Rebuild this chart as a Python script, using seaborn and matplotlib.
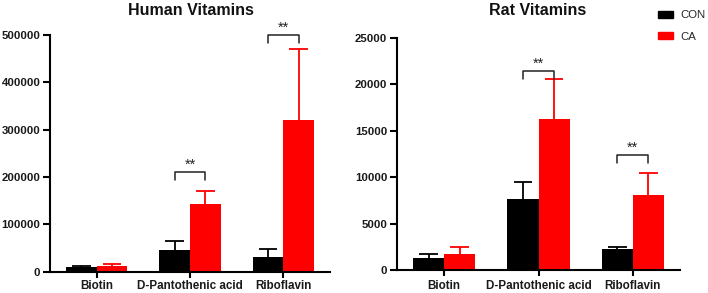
import numpy as np
import pandas as pd
import matplotlib
matplotlib.use("Agg")
import matplotlib.pyplot as plt
import seaborn as sns
from matplotlib.patches import Patch

sns.set_theme(style="ticks")
plt.rcParams['font.family'] = ['Liberation Sans', 'DejaVu Sans']

categories = ["Biotin", "D-Pantothenic acid", "Riboflavin"]
groups = ["CON", "CA"]
colors = ["#000000", "#ff0000"]

human_con = [9100, 45800, 31000]
human_con_err = [3500, 19700, 16000]
human_ca = [11900, 143000, 320000]
human_ca_err = [3500, 27000, 150000]
human_sig = ["", "**", "**"]
human_bracket = [0, 210000, 500000]

rat_con = [1260, 7690, 2240]
rat_con_err = [440, 1800, 250]
rat_ca = [1730, 16290, 8050]
rat_ca_err = [760, 4250, 2350]
rat_sig = ["", "**", "**"]
rat_bracket = [0, 21450, 12400]

human_ticks = [0, 100000, 200000, 300000, 400000, 500000]
rat_ticks = [0, 5000, 10000, 15000, 20000, 25000]

fig = plt.figure(figsize=(7.08, 2.93), dpi=100)
ax1 = fig.add_axes([50/708, 1-271.7/293, 280/708, (271.7-35)/293])
ax2 = fig.add_axes([397/708, 1-270/293, 283/708, (270-38)/293])


def draw(ax, con, con_err, ca, ca_err, sig, bracket, ticks, title, title_x, xpad):
    df = pd.DataFrame({
        "cat": categories * 2,
        "grp": ["CON"] * 3 + ["CA"] * 3,
        "val": list(con) + list(ca),
        "err": list(con_err) + list(ca_err),
    })
    sns.barplot(data=df, x="cat", y="val", hue="grp", hue_order=groups,
                palette=colors, width=0.66, errorbar=None, ax=ax,
                saturation=1, legend=False, linewidth=0)
    bars = [p for p in ax.patches if p.get_height() > 0]
    xs = [b.get_x() + b.get_width() / 2 for b in bars]
    for i, (x, v, e) in enumerate(zip(xs, df["val"], df["err"])):
        c = colors[0] if i < 3 else colors[1]
        ax.vlines(x, v, v + e, color=c, lw=1.3, zorder=1)
        ax.hlines(v + e, x - 0.1, x + 0.1, color=c, lw=1.3, zorder=1)
    ymax = ticks[-1]
    for j in range(3):
        if sig[j]:
            x0, x1 = xs[j], xs[j + 3]
            yb = bracket[j]
            leg = ymax * 0.033
            ax.plot([x0, x0, x1, x1], [yb - leg, yb, yb, yb - leg],
                    color="#222222", lw=1.1, clip_on=False)
            ax.text((x0 + x1) / 2, yb + ymax * 0.002, sig[j], ha="center",
                    va="bottom", fontsize=10.5, color="#222222", clip_on=False)
    ax.set_xlim(-0.5, 2.5)
    ax.set_ylim(0, ymax)
    ax.set_yticks(ticks)
    ax.set_yticklabels([str(t) for t in ticks], fontsize=8.2, fontweight="bold")
    ax.set_xticklabels(categories, fontsize=8.4, fontweight="bold")
    ax.set_xlabel("")
    ax.set_ylabel("")
    fig.text(title_x, 1 - 10.5/293, title, ha="center", va="center",
             fontsize=11.5, fontweight="bold", color="#111111")
    sns.despine(ax=ax)
    for s in ["left", "bottom"]:
        ax.spines[s].set_linewidth(1.5)
        ax.spines[s].set_color("black")
    ax.tick_params(axis="y", width=1.5, length=5, color="black",
                   labelcolor="#1a1a1a", pad=2)
    ax.tick_params(axis="x", width=1.5, length=4, color="black",
                   labelcolor="#1a1a1a", pad=xpad)


draw(ax1, human_con, human_con_err, human_ca, human_ca_err, human_sig,
     human_bracket, human_ticks, "Human Vitamins", 191/708, 2.2)
draw(ax2, rat_con, rat_con_err, rat_ca, rat_ca_err, rat_sig,
     rat_bracket, rat_ticks, "Rat Vitamins", 538/708, 3.5)

handles = [Patch(facecolor=c, edgecolor=c) for c in colors]
fig.legend(handles, groups, loc="upper left", bbox_to_anchor=(648/708, 1.0),
           frameon=False, fontsize=8.2, handlelength=1.3, handleheight=0.6,
           labelspacing=1.0, handletextpad=0.6)

fig.savefig("out.png", dpi=100)
